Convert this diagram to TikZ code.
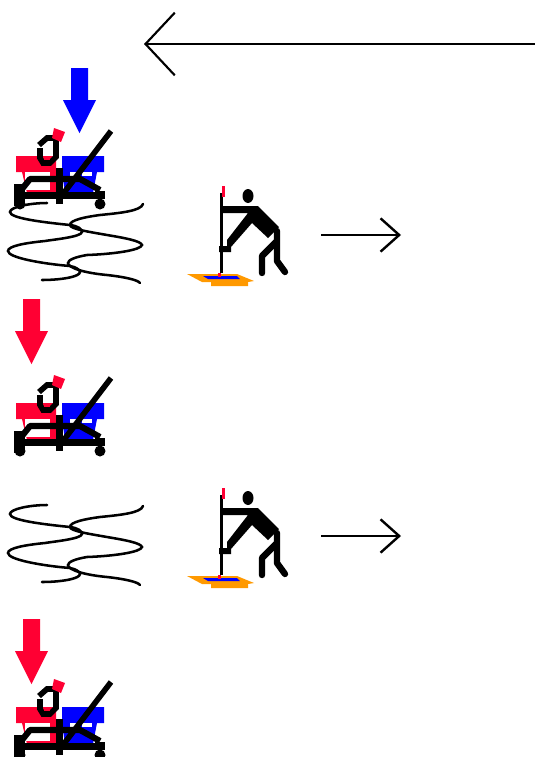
\documentclass[tikz,border=0pt]{standalone}
\usepackage{xcolor}
\usetikzlibrary{arrows.meta}
\definecolor{capred}{HTML}{FF0033}
\definecolor{capblue}{HTML}{0000FF}
\definecolor{matorange}{HTML}{FF9900}

\begin{document}
\begin{tikzpicture}[
  x=0.75pt, y=-0.75pt,
  barline/.style={black, line width=4.6pt, line join=round},
  wavy/.style={black, line width=1.9pt, line cap=round},
  flow/.style={black, line width=2.1pt},
  bigtip/.style={-{Straight Barb[length=22pt, width=47pt, line width=1.6pt]}},
  smalltip/.style={-{Straight Barb[length=14pt, width=25pt, line width=1.8pt]}},
  pics/cart/.style={code={
    % buckets
    \fill[capred] (16,156) -- (56,156) -- (56,193) -- (27,193) -- (22,172) -- (16,172) -- cycle;
    \fill[white] (25,172) rectangle (50,190);
    \fill[capblue] (62,156) -- (104,156) -- (104,172) -- (97,172) -- (93,193) -- (65,193) -- (62,172) -- cycle;
    \fill[white] (70,172) rectangle (77,180);
    \fill[white] (82,172) rectangle (92,176);
    % worker
    \draw[black, line width=4.2pt] (39,145) -- (47,138) -- (56,138) -- (56,157) -- (50,163) -- (43,163) -- (40,158) -- (40,148);
    \fill[capred] (44,158) rectangle (50,160);
    \fill[capred] (54,128) -- (65,132) -- (61,142) -- (52,138) -- cycle;
    % frame
    \draw[barline] (22,189) -- (30,179) -- (80,179) -- (100,190);
    \fill[black] (14,192) rectangle (105,199);
    \fill[black] (14,184) rectangle (25,206);
    \fill[black] (95,191) rectangle (105,199);
    \fill[black] (56,168) rectangle (63,204);
    \fill[black] (20,204) circle (5.5);
    \fill[black] (100,204) circle (5.5);
    \draw[black, line width=4.2pt] (111,131) -- (63,194);
  }},
  pics/scrawl/.style={code={
    \draw[wavy] (47,203) .. controls (30,203) and (10,207) .. (10,212) .. controls (10,218) and (40,222) .. (70,225) .. controls (78,226) and (82,229) .. (82,232) .. controls (82,237) and (50,240) .. (45,241) .. controls (25,243) and (8,246) .. (8,251) .. controls (8,258) and (45,264) .. (70,266) .. controls (76,267) and (80,270) .. (80,272) .. controls (80,277) and (60,280) .. (42,280);
    \draw[wavy] (143,204) .. controls (141,211) and (120,213) .. (100,215) .. controls (85,217) and (70,220) .. (70,225) .. controls (70,229) and (90,232) .. (107,235) .. controls (125,238) and (141,241) .. (142,245) .. controls (141,250) and (115,254) .. (87,255) .. controls (75,257) and (68,260) .. (68,263) .. controls (68,268) and (85,273) .. (107,275) .. controls (125,277) and (138,280) .. (140,283);
  }},
  pics/mopper/.style={code={
    % mat
    \fill[matorange] (187,274) -- (237,274) -- (254,281) -- (248,282) -- (248,286) -- (211,286) -- (211,282) -- (202,282) -- cycle;
    \fill[capblue] (203,276) -- (237,276) -- (240,279) -- (208,279) -- cycle;
    \fill[capred] (218,273) rectangle (221,277);
    % handle
    \draw[black, line width=1.9pt] (221.5,193) -- (221.5,273);
    \fill[capred] (222,186) rectangle (224.5,197);
    % body
    \fill[black] (248,196) ellipse (5.5 and 7);
    \fill[black] (220,206) -- (258,206) -- (279,227) -- (268,238) -- (252,223) -- (231,247) -- (231,252) -- (219,252) -- (219,246) -- (227,246) -- (227,240) -- (248,213) -- (220,213) -- cycle;
    \draw[black, line width=4.8pt, line join=round, line cap=round] (277,231) -- (277,261) -- (285,272);
    \draw[black, line width=4.8pt, line join=round, line cap=round] (276,242) -- (262,256) -- (262,273);
  }},
  pics/dropblock/.style={code={
    \fill[#1] (-8.5,0) -- (8.5,0) -- (8.5,32) -- (16.5,32) -- (0,65) -- (-16.5,32) -- (-8.5,32) -- cycle;
  }},
]
  \useasboundingbox (0,0) rectangle (535,757);
  \clip (0,0) rectangle (535,757);

  \coordinate (farright) at (535,44);
  \coordinate (farleft) at (144,44);
  \draw[flow, bigtip] (farright) -- (farleft);

  \pic at (79.5,68) {dropblock=capblue};
  \pic at (0,0) {cart};
  \pic at (0,0) {scrawl};
  \pic at (0,0) {mopper};
  \coordinate (outa) at (321,235);
  \coordinate (enda) at (401,235);
  \draw[flow, smalltip] (outa) -- (enda);

  \pic at (31.5,299) {dropblock=capred};
  \pic at (0,247) {cart};

  \pic at (0,302) {scrawl};
  \pic at (0,302) {mopper};
  \coordinate (outb) at (321,536);
  \coordinate (endb) at (401,536);
  \draw[flow, smalltip] (outb) -- (endb);

  \pic at (31.5,619) {dropblock=capred};
  \pic at (0,551) {cart};
\end{tikzpicture}
\end{document}
